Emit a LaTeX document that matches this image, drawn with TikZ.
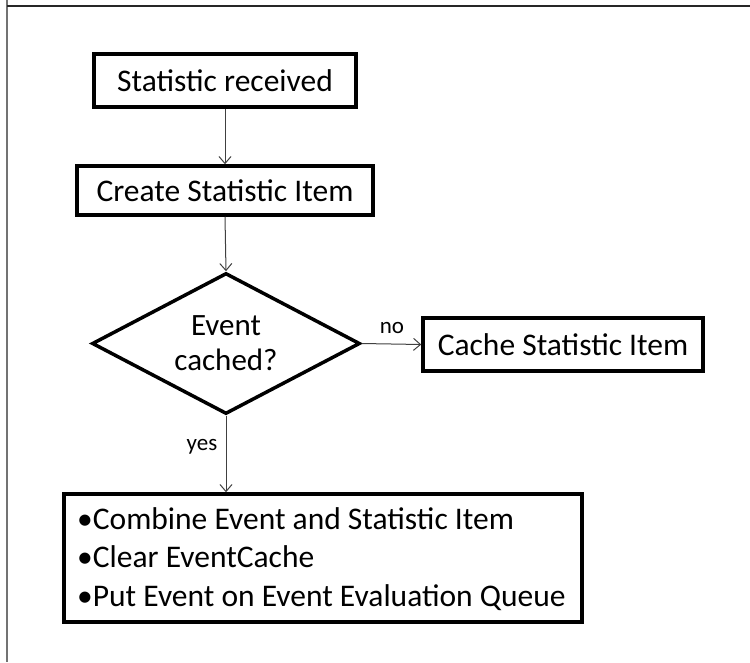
\documentclass[tikz,border=0pt]{standalone}
\usepackage{fontspec}
\setmainfont{Carlito}
\usetikzlibrary{shapes.geometric,arrows.meta}
\begin{document}
\begin{tikzpicture}[x=1pt,y=-1pt,
  stepbox/.style={draw=black,line width=3.5pt,fill=white,inner sep=0pt,
    font=\fontsize{31.5}{36}\selectfont},
  decision/.style={draw=black,line width=3.5pt,fill=white,shape=diamond,
    aspect=1.9,inner sep=0pt,align=center,
    font=\fontsize{31}{35}\selectfont},
  flow/.style={draw=black!75,line width=1pt,
    -{Straight Barb[length=7pt,width=12pt,line width=1pt]}},
  tag/.style={font=\fontsize{23}{26}\selectfont,inner sep=0pt}]
\useasboundingbox (0,0) rectangle (750,662);
% page frame (left and top edges only)
\draw[black!55,line width=2pt] (7,0) -- (7,662);
\draw[black!85,line width=1.5pt] (7,6) -- (750,6);

% process steps
\node[stepbox,minimum width=262pt,minimum height=53pt] (recv) at (225,80.5) {Statistic received};
\node[stepbox,minimum width=296pt,minimum height=49pt] (create) at (225,190.5) {Create Statistic Item};
\node[decision,minimum width=268pt,minimum height=141pt] (cached) at (226,343.5) {Event\\cached?};
\node[stepbox,minimum width=280pt,minimum height=53pt] (store) at (563,344.5) {Cache Statistic Item};
\node[stepbox,minimum width=518pt,minimum height=128pt] (combine) at (323,558) {};
\node[anchor=west,align=left,inner sep=0pt,font=\fontsize{31.5}{38.5}\selectfont]
  (combinetext) at (77,559)
  {•Combine Event and Statistic Item\\•Clear EventCache\\•Put Event on Event Evaluation Queue};

% connectors
\draw[flow] (recv.south) -- (create.north);
\draw[flow] (create.south) -- (cached.north);
\draw[flow] (cached.east) -- (store.west);
\draw[flow] (cached.south) -- (cached.south |- combine.north);

% branch labels
\node[tag] (nolabel) at (392,328) {no};
\node[tag] (yeslabel) at (202,447) {yes};
\end{tikzpicture}
\end{document}
